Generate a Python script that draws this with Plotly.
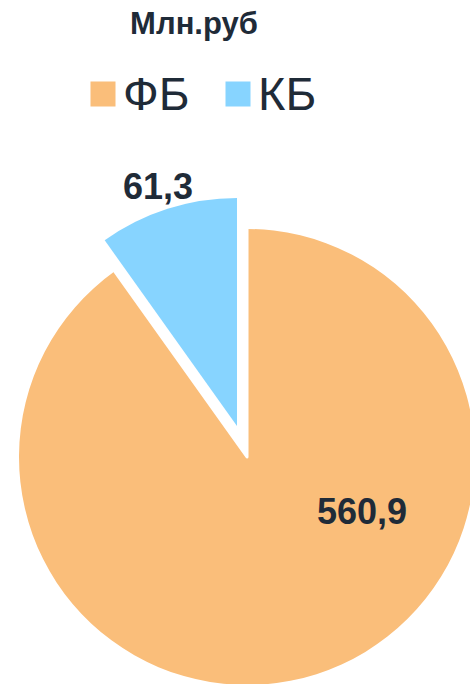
import plotly.graph_objects as go

# Data
labels = ["ФБ", "КБ"]
values = [560.9, 61.3]
colors = ["#FABE7A", "#87D4FF"]
title_text = "Млн.руб"

TEXT = "#1F2B38"
FONT = "Liberation Sans, Arial, sans-serif"
W, H = 480, 690

def dom(cx, cy, r):
    return dict(x=[(cx - r) / W, (cx + r) / W], y=[1 - (cy + r) / H, 1 - (cy - r) / H])

def fmt(v):
    return f"{v:.1f}".replace(".", ",")

common = dict(labels=labels, values=values, sort=False, direction="clockwise",
              rotation=0, hoverinfo="label+value", textinfo="none")

fig = go.Figure()
# base pie (legend provider)
fig.add_trace(go.Pie(**common, marker=dict(colors=colors, line=dict(width=0)),
                     domain=dom(247, 457, 228), showlegend=True))
# white cover for the pulled slice's original place
fig.add_trace(go.Pie(**common, marker=dict(colors=["rgba(0,0,0,0)", "white"],
                                           line=dict(color=["rgba(0,0,0,0)", "white"], width=[0, 3])),
                     domain=dom(247, 457, 228), showlegend=False))
# pulled-out slice
fig.add_trace(go.Pie(**common, marker=dict(colors=["rgba(0,0,0,0)", colors[1]], line=dict(width=0)),
                     domain=dom(237, 426, 228), showlegend=False))

label_pos = [(362, 511), (158, 186)]
for v, (px, py) in zip(values, label_pos):
    fig.add_annotation(text=fmt(v), x=px / W, y=1 - py / H, xanchor="center", yanchor="middle",
                       xref="paper", yref="paper", showarrow=False,
                       font=dict(size=36, color=TEXT, family=FONT, weight="bold"))

fig.update_layout(
    width=W, height=H,
    margin=dict(l=0, r=0, t=0, b=0),
    paper_bgcolor="white", plot_bgcolor="white",
    separators=", ",
    font=dict(family=FONT, color=TEXT),
    title=dict(text=title_text, x=194 / W, xanchor="center", y=1 - 23 / H, yanchor="middle",
               xref="paper", yref="paper",
               font=dict(size=31, color=TEXT, family=FONT, weight="bold")),
    legend=dict(orientation="h", x=83 / W, xanchor="left", y=1 - 92 / H, yanchor="middle",
                font=dict(size=47, color=TEXT, family=FONT),
                entrywidth=90, entrywidthmode="pixels", bgcolor="rgba(0,0,0,0)"),
)

post = """
document.body.style.margin='0';
document.body.style.overflow='hidden';
document.documentElement.style.overflow='hidden';
var gd=document.getElementById('{plot_id}');
gd.querySelectorAll('path.legendpie').forEach(function(p){p.setAttribute('d','M12.5,15H-12.5V-10H12.5Z');});
"""

fig.write_html("out.html", post_script=post, config={"displayModeBar": False})
